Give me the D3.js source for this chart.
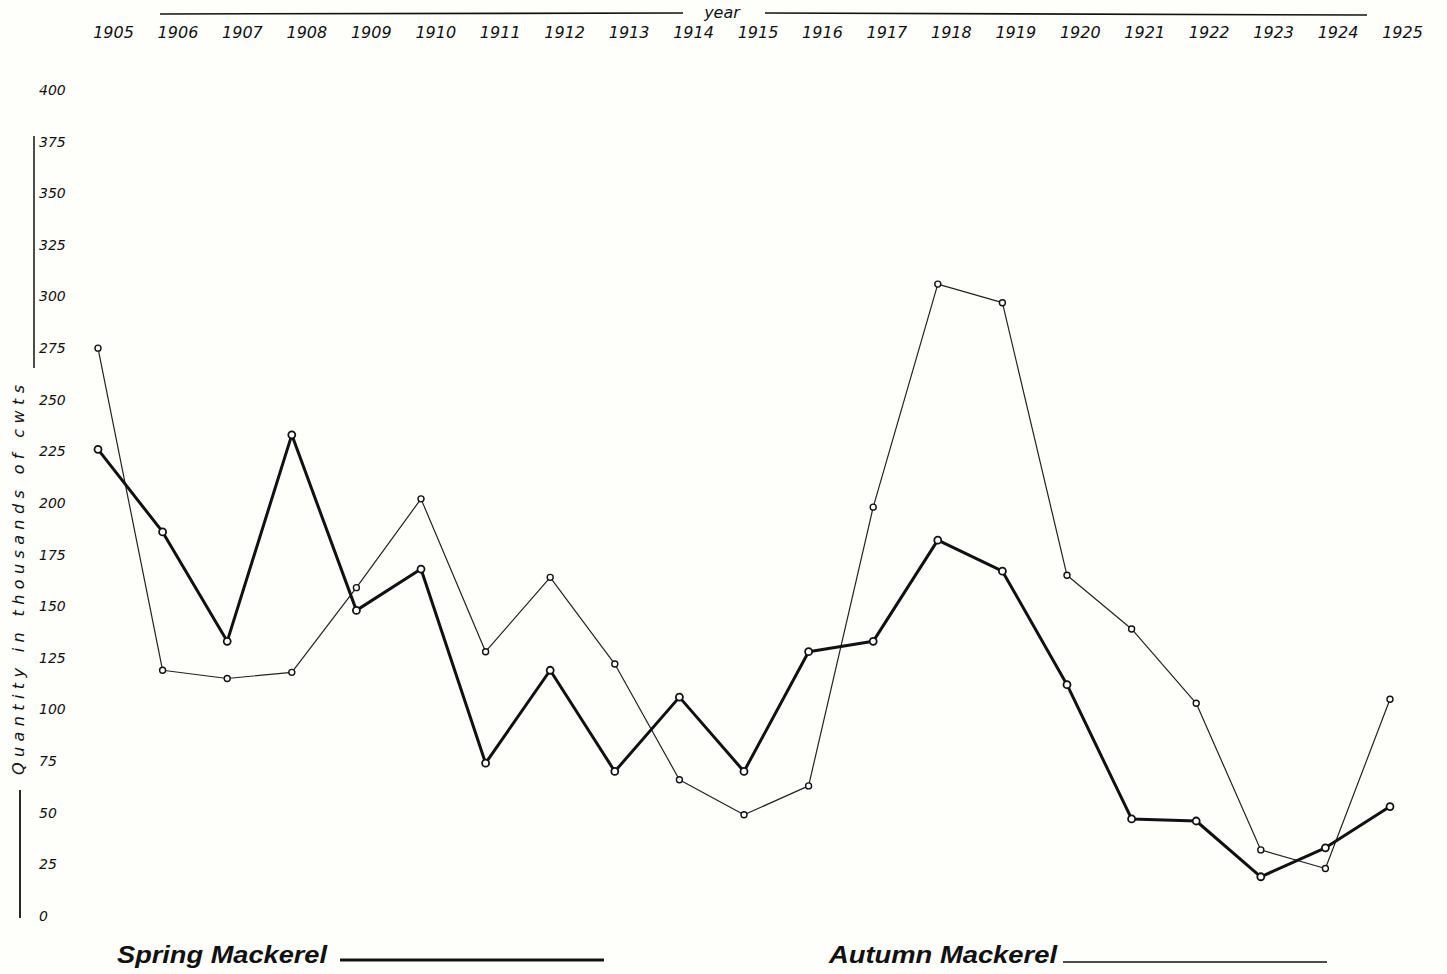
<!DOCTYPE html>
<html>
<head>
<meta charset="utf-8">
<script src="https://cdn.jsdelivr.net/npm/d3@7/dist/d3.min.js"></script>
<style>
  html, body { margin: 0; padding: 0; background: #fefefb; }
  svg { display: block; }
</style>
</head>
<body>
<script>
// ---- Data ----
const years = [1905,1906,1907,1908,1909,1910,1911,1912,1913,1914,1915,1916,1917,1918,1919,1920,1921,1922,1923,1924,1925];
const springMackerel = [226,186,133,233,148,168,74,119,70,106,70,128,133,182,167,112,47,46,19,33,53];
const autumnMackerel = [275,119,115,118,159,202,128,164,122,66,49,63,198,306,297,165,139,103,32,23,105];
const yTicks = [0,25,50,75,100,125,150,175,200,225,250,275,300,325,350,375,400];
const xTitle = "year";
const yTitle = "Quantity in thousands of cwts";
const legendLabels = ["Spring Mackerel", "Autumn Mackerel"];

// ---- Layout ----
const W = 1447, H = 974;
const svg = d3.select("body").append("svg").attr("width", W).attr("height", H);
svg.append("rect").attr("width", W).attr("height", H).attr("fill", "#fefefb");

const x = d3.scalePoint().domain(years).range([98, 1390]);
const xLab = d3.scalePoint().domain(years).range([113, 1402]);
const y = d3.scaleLinear().domain([0, 400]).range([916, 90]);

const hand = "'DejaVu Sans', sans-serif";

// Top year axis labels
const topAxis = d3.axisTop(xLab).tickSize(0).tickPadding(0);
const gTop = svg.append("g").attr("transform", "translate(0,38)").call(topAxis);
gTop.select(".domain").remove();
gTop.selectAll("text")
  .attr("font-family", hand).attr("font-style", "italic").attr("font-size", 16)
  .attr("fill", "#111").attr("dy", 0);

// Top line with "year"
svg.append("line").attr("x1", 160).attr("x2", 683).attr("y1", 14).attr("y2", 13)
  .attr("stroke", "#111").attr("stroke-width", 1.6);
svg.append("line").attr("x1", 765).attr("x2", 1367).attr("y1", 13).attr("y2", 15)
  .attr("stroke", "#111").attr("stroke-width", 1.6);
svg.append("text").attr("x", 722).attr("y", 18).attr("text-anchor", "middle")
  .attr("font-family", hand).attr("font-style", "italic").attr("font-size", 16)
  .attr("fill", "#111").text(xTitle);

// Left value labels
const leftAxis = d3.axisRight(y).tickValues(yTicks).tickSize(0).tickPadding(0).tickFormat(d3.format("d"));
const gLeft = svg.append("g").attr("transform", "translate(39,0)").call(leftAxis);
gLeft.select(".domain").remove();
gLeft.selectAll("text")
  .attr("font-family", hand).attr("font-style", "italic").attr("font-size", 14)
  .attr("fill", "#111").attr("text-anchor", "start");

// Vertical hand-drawn bars
svg.append("line").attr("x1", 34).attr("x2", 34).attr("y1", 136).attr("y2", 368)
  .attr("stroke", "#111").attr("stroke-width", 1.5);
svg.append("line").attr("x1", 20).attr("x2", 20).attr("y1", 790).attr("y2", 918)
  .attr("stroke", "#111").attr("stroke-width", 1.8);

// Y title (rotated)
svg.append("text")
  .attr("transform", "translate(24,580) rotate(-90)")
  .attr("text-anchor", "middle")
  .attr("font-family", hand).attr("font-style", "italic").attr("font-size", 16)
  .attr("textLength", 390).attr("lengthAdjust", "spacing")
  .attr("fill", "#111").text(yTitle);

// Lines
const line = d3.line().x((d, i) => x(years[i])).y(d => y(d));

svg.append("path").datum(autumnMackerel).attr("d", line)
  .attr("fill", "none").attr("stroke", "#222").attr("stroke-width", 1.2).attr("stroke-linejoin", "round");
svg.append("path").datum(springMackerel).attr("d", line)
  .attr("fill", "none").attr("stroke", "#111").attr("stroke-width", 3).attr("stroke-linejoin", "round");

svg.append("g").selectAll("circle").data(autumnMackerel).join("circle")
  .attr("cx", (d, i) => x(years[i])).attr("cy", d => y(d)).attr("r", 3)
  .attr("fill", "#fff").attr("stroke", "#111").attr("stroke-width", 1.4);
svg.append("g").selectAll("circle").data(springMackerel).join("circle")
  .attr("cx", (d, i) => x(years[i])).attr("cy", d => y(d)).attr("r", 3.5)
  .attr("fill", "#fff").attr("stroke", "#111").attr("stroke-width", 1.8);

// Legend
const legend = [
  { label: legendLabels[0], tx: 117, tw: 210, lx1: 340, lx2: 604, ly: 960, sw: 3 },
  { label: legendLabels[1], tx: 829, tw: 228, lx1: 1063, lx2: 1327, ly: 962, sw: 1.4 }
];
legend.forEach(l => {
  svg.append("text").attr("x", l.tx).attr("y", 963)
    .attr("font-family", "'Liberation Sans', Arial, sans-serif")
    .attr("font-style", "italic").attr("font-weight", "bold").attr("font-size", 24)
    .attr("textLength", l.tw).attr("lengthAdjust", "spacingAndGlyphs")
    .attr("fill", "#111").text(l.label);
  svg.append("line").attr("x1", l.lx1).attr("x2", l.lx2).attr("y1", l.ly).attr("y2", l.ly)
    .attr("stroke", "#111").attr("stroke-width", l.sw);
});
</script>
</body>
</html>
